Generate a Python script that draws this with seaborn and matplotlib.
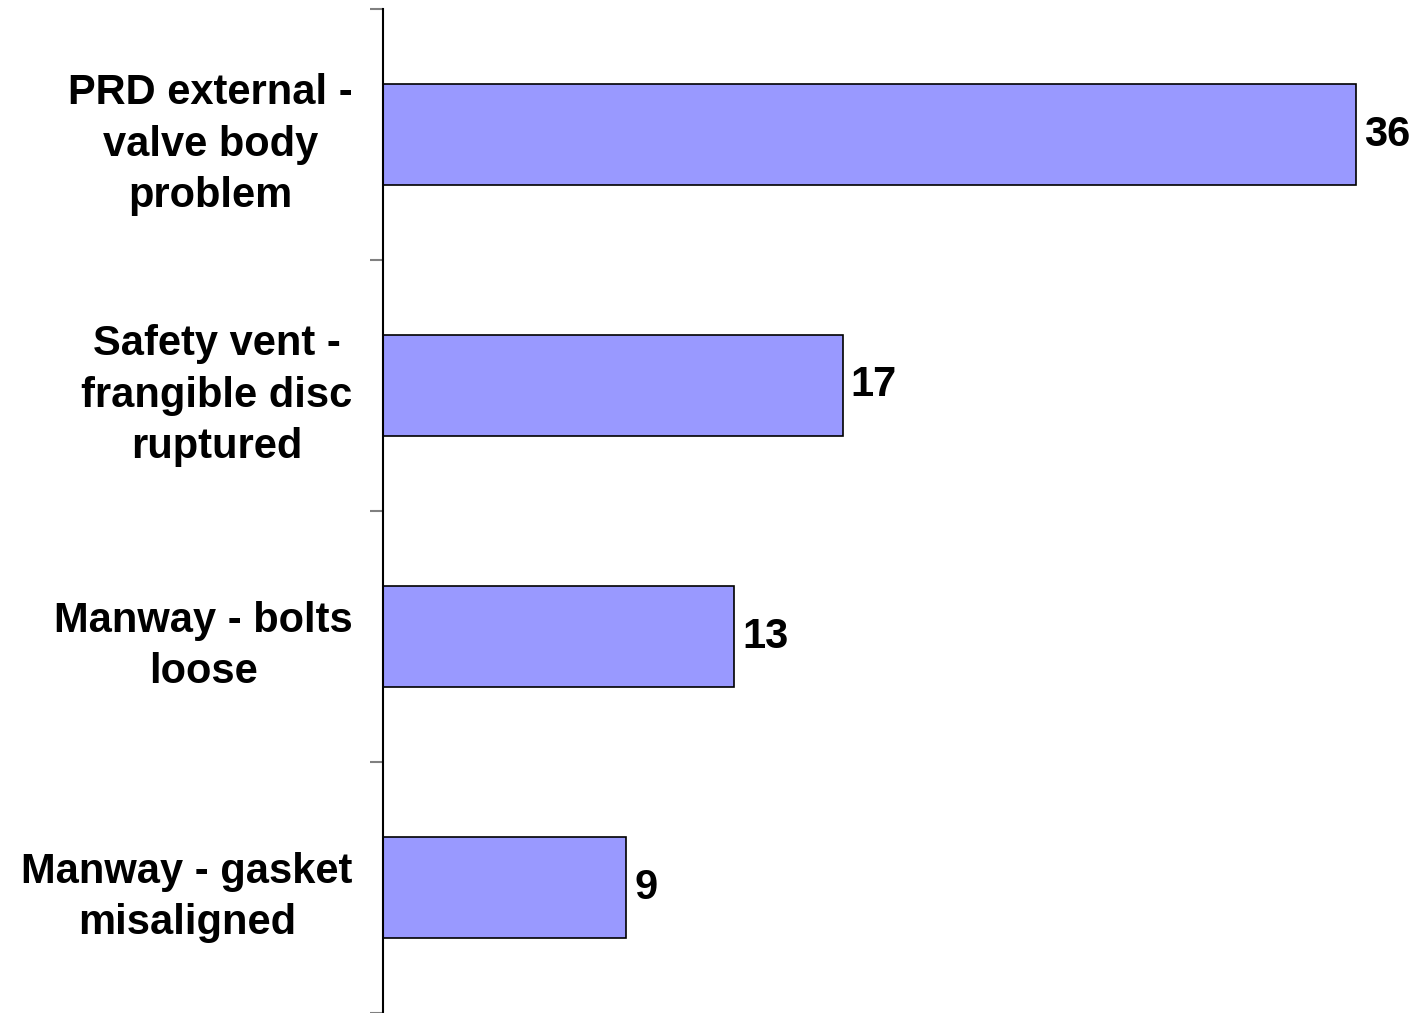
import matplotlib
matplotlib.use("Agg")
import matplotlib.pyplot as plt
import seaborn as sns
import pandas as pd

categories = ["PRD external -\nvalve body\nproblem",
              "Safety vent -\nfrangible disc\nruptured",
              "Manway - bolts\nloose",
              "Manway - gasket\nmisaligned"]
counts = [36, 17, 13, 9]

df = pd.DataFrame({"category": categories, "count": counts})

sns.set_style("white")
plt.rcParams["font.family"] = ["Liberation Sans", "DejaVu Sans"]

fig = plt.figure(figsize=(14.18, 10.13), dpi=100)
ax = fig.add_axes([383 / 1418, 0.0, 1035 / 1418, 1 - 9 / 1013])

sns.barplot(data=df, x="count", y="category", orient="h", width=0.4,
            color="#9999FF", saturation=1, edgecolor="black", linewidth=1.2, ax=ax)

for c in ax.containers:
    ax.bar_label(c, padding=6, fontsize=30, fontweight="bold", color="black")

ax.set_xlim(0, 1035 / 27.03)
ax.set_ylim(3.5, -0.5)
ax.set_xlabel("")
ax.set_ylabel("")
ax.set_xticks([])

# labels at bar centers, tick marks at category boundaries
ax.set_yticks([-0.5, 0.5, 1.5, 2.5, 3.5], minor=True)
ax.tick_params(axis="y", which="major", length=0, pad=22, labelsize=30, labelcolor="black")
ax.tick_params(axis="y", which="minor", length=9.5, width=1.5, color="#808080", left=True)
for lab in ax.get_yticklabels():
    lab.set_fontweight("bold")
    lab.set_multialignment("center")
    lab.set_linespacing(1.37)

for s in ["top", "right", "bottom"]:
    ax.spines[s].set_visible(False)
ax.spines["left"].set_color("black")
ax.spines["left"].set_linewidth(1.5)

fig.savefig("out.png", dpi=100)
